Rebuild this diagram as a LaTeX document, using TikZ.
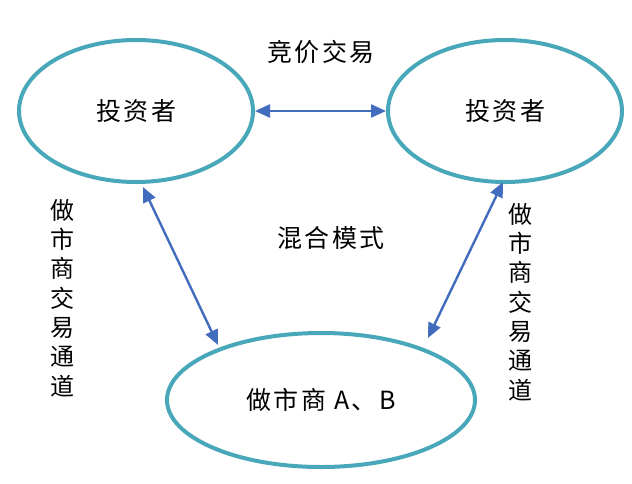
\documentclass[tikz,border=0pt]{standalone}
\usepackage{fontspec}
\newfontfamily\cjk[LetterSpace=10]{Noto Sans CJK SC}
\newfontfamily\cjkv{Noto Sans CJK SC}
\usetikzlibrary{shapes.geometric,arrows.meta}
\definecolor{ringc}{RGB}{72,168,186}
\definecolor{arrc}{RGB}{66,108,190}
\tikzset{
  ring/.style={ellipse, draw=ringc, line width=4pt, inner sep=0pt, font=\cjk\fontsize{25}{25}\selectfont},
  link/.style={draw=arrc, line width=2.4pt, {Triangle[length=15pt,width=13pt]}-{Triangle[length=15pt,width=13pt]}},
  lbl/.style={font=\cjk\fontsize{25}{25}\selectfont, inner sep=0pt},
  vlbl/.style={font=\cjkv\fontsize{24}{29.3}\selectfont, align=center, inner sep=0pt}
}
\begin{document}
\begin{tikzpicture}[x=1pt,y=-1pt]
\useasboundingbox[fill=white] (0,0) rectangle (632,483);
\node[ring, minimum width=234pt, minimum height=142pt] (L) at (136,111) {投资者};
\node[ring, minimum width=234pt, minimum height=142pt] (R) at (505,111) {投资者};
\node[ring, minimum width=308pt, minimum height=134pt] (B) at (321,400) {做市商 A、B};
\node[lbl] (t1) at (321,52) {竞价交易};
\node[lbl] (t2) at (331,238) {混合模式};
\node[vlbl] (vl) at (62,298) {做\\市\\商\\交\\易\\通\\道};
\node[vlbl] (vr) at (520,302) {做\\市\\商\\交\\易\\通\\道};
\path (L.center) ++(7,76) coordinate (lt);
\path (B.center) ++(-103,-55) coordinate (lb);
\path (R.center) ++(-2,71) coordinate (rt);
\path (B.center) ++(107,-62) coordinate (rb);
\draw[link] (L.east) -- (R.west);
\draw[link] (lt) -- (lb);
\draw[link] (rt) -- (rb);
\end{tikzpicture}
\end{document}
